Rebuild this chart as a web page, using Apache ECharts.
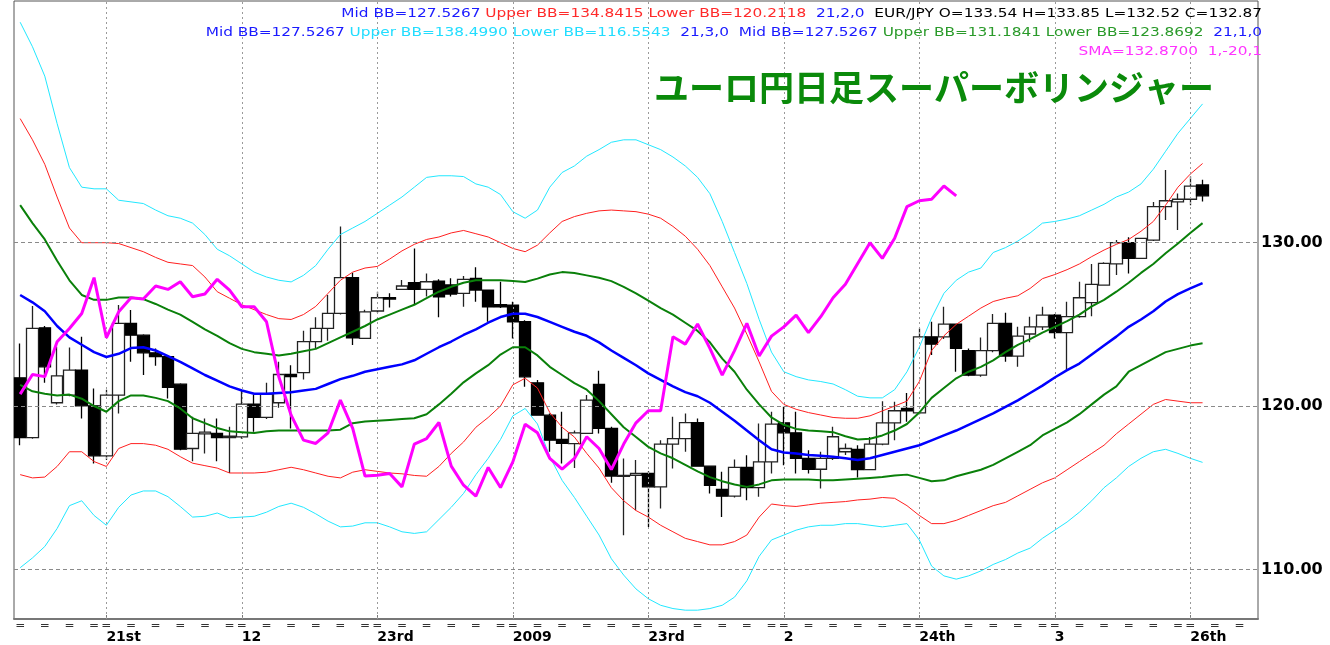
<!DOCTYPE html>
<html><head><meta charset="utf-8">
<script src="https://cdn.jsdelivr.net/npm/echarts/dist/echarts.min.js"></script>
<style>html,body{margin:0;padding:0;background:#fff}#c{width:1330px;height:645px}</style>
</head><body><div id="c"></div>
<script>
// ---- data (EUR/JPY daily) ----
const labelIdx  = [7, 18, 29, 40, 51, 62, 73, 84, 95];
const labelText = ['21st', '12', '23rd', '2009', '23rd', '2', '24th', '3', '26th'];
const yTicks = [110, 120, 130];

const open = [121.73,118.07,124.79,120.2,120.67,122.2,120.01,116.95,120.67,125.06,
124.34,123.26,123.02,121.34,117.4,118.3,118.32,118.07,118.11,120.12,
119.3,120.2,121.93,122.04,123.94,124.75,125.67,127.86,124.14,125.82,
126.63,127.14,127.55,127.14,127.65,127.41,126.9,127.82,127.1,126.2,
126.18,125.16,121.42,119.44,117.95,117.7,118.32,121.32,118.63,115.7,
115.75,115.87,115.05,117.67,118.01,118.99,116.32,114.89,114.48,116.24,
115.01,116.58,118.97,118.36,116.79,116.13,116.79,117.2,117.34,116.11,
117.67,118.97,119.85,119.58,124.24,124.24,125.02,123.39,121.89,123.39,
125.06,123.06,124.41,124.85,125.57,124.49,125.47,126.33,127.4,128.7,
130.0,129.04,130.16,132.21,132.5,132.66,133.54];
const close = [118.07,124.75,122.4,121.85,122.2,120.01,116.95,120.67,125.06,124.34,
123.26,123.02,121.14,117.36,118.32,118.4,118.07,118.15,120.12,119.3,
120.73,121.93,121.8,123.94,124.75,125.67,127.86,124.18,125.77,126.63,
126.55,127.35,127.14,127.61,126.69,126.86,127.76,127.1,126.08,126.08,
125.16,121.79,119.44,117.91,117.71,118.36,120.36,118.63,115.71,115.76,
115.87,115.05,117.67,118.01,118.99,116.32,115.15,114.48,116.24,115.01,
116.58,118.89,118.36,116.79,116.13,116.79,118.12,117.4,116.11,117.67,
118.97,119.71,119.71,124.24,123.79,125.02,123.53,121.89,123.39,125.06,
123.06,124.28,124.85,125.57,124.49,125.47,126.63,127.45,128.73,130.0,
129.04,130.27,132.21,132.57,132.66,133.47,132.87];
const low = [117.6,118.0,121.42,120.1,120.6,119.24,116.48,116.7,119.54,122.71,
121.9,122.46,120.46,117.3,116.62,117.1,116.62,115.9,118.0,118.42,
119.2,119.9,118.63,121.63,123.5,124.0,125.6,123.73,124.1,125.7,
126.04,127.1,126.25,126.7,125.43,126.7,126.08,126.39,125.16,126.0,
124.14,121.18,119.4,117.2,116.48,116.2,118.3,118.32,115.3,112.09,
113.62,112.6,113.72,116.17,117.2,116.3,114.64,113.21,114.4,114.23,
114.44,115.87,116.38,115.87,115.87,114.95,116.7,117.0,115.62,116.1,
117.6,117.91,119.03,119.5,123.12,124.1,122.1,121.83,121.8,123.3,
122.71,122.4,123.9,124.65,124.14,122.16,125.4,125.5,127.4,128.02,
128.12,129.0,130.1,131.39,130.78,132.3,132.52];
const high = [123.83,126.12,124.9,123.63,123.59,124.24,121.08,121.0,126.18,125.88,
124.4,123.53,123.1,121.4,119.34,119.24,119.24,118.73,120.97,120.7,
121.42,122.71,122.5,124.61,125.43,126.8,131.0,128.16,125.9,127.0,
126.9,127.72,129.65,128.12,127.76,127.82,127.96,128.49,127.1,127.61,
126.39,125.26,121.6,119.54,119.65,118.5,120.67,122.16,118.73,116.79,
116.7,116.0,117.91,119.34,119.54,119.24,116.35,115.97,116.73,116.99,
118.93,119.65,119.95,119.65,117.3,117.2,118.73,117.7,117.6,118.11,
120.3,120.26,120.8,124.75,125.16,126.08,125.06,123.53,124.2,125.63,
125.71,124.85,125.47,126.08,125.63,126.39,127.61,128.7,128.8,130.16,
130.33,130.3,132.5,134.45,133.02,134.05,133.85];

const midBB = [126.8,126.35,125.8,124.9,124.2,123.75,123.3,123.0,123.2,123.55,
123.6,123.4,123.05,122.7,122.3,121.9,121.55,121.2,120.95,120.75,
120.75,120.8,120.85,120.95,121.05,121.35,121.65,121.85,122.1,122.25,
122.4,122.55,122.8,123.2,123.6,123.95,124.35,124.7,125.1,125.45,
125.65,125.65,125.45,125.15,124.85,124.55,124.3,123.9,123.4,122.95,
122.5,122.0,121.6,121.2,120.85,120.6,120.2,119.65,119.1,118.5,
117.9,117.35,117.15,117.1,117.0,116.95,116.9,116.8,116.7,116.8,
117.0,117.2,117.4,117.6,117.9,118.2,118.5,118.85,119.2,119.55,
119.95,120.35,120.8,121.25,121.75,122.2,122.6,123.15,123.7,124.25,
124.85,125.3,125.8,126.4,126.85,127.2,127.53];
const upper1 = [132.3,131.2,130.2,128.9,127.7,126.8,126.5,126.5,126.65,126.65,
126.55,126.25,125.9,125.6,125.15,124.7,124.3,123.85,123.5,123.3,
123.2,123.1,123.2,123.35,123.5,123.85,124.2,124.55,124.9,125.3,
125.6,125.9,126.2,126.6,127.0,127.3,127.55,127.7,127.7,127.7,
127.65,127.6,127.8,128.05,128.2,128.15,128.0,127.85,127.65,127.3,
126.9,126.45,126.0,125.6,125.1,124.6,123.9,122.9,122.1,121.0,
120.1,119.3,118.85,118.6,118.5,118.45,118.4,118.15,117.95,118.0,
118.2,118.5,118.9,119.6,120.5,121.1,121.7,122.1,122.4,122.8,
123.3,123.75,124.1,124.5,124.85,125.2,125.6,126.1,126.5,127.0,
127.55,128.15,128.7,129.35,129.95,130.6,131.2];
const lower1 = [121.3,120.9,120.75,120.65,120.7,120.45,120.0,119.65,120.3,120.65,
120.65,120.5,120.3,119.85,119.25,118.95,118.65,118.45,118.4,118.35,
118.45,118.5,118.5,118.5,118.5,118.5,118.55,118.95,119.05,119.1,
119.15,119.2,119.25,119.5,120.1,120.75,121.45,122.0,122.5,123.15,
123.6,123.6,123.1,122.4,121.9,121.4,121.0,120.3,119.5,118.7,
118.1,117.5,117.1,116.8,116.4,116.0,115.65,115.4,115.2,115.05,
115.2,115.45,115.5,115.5,115.5,115.45,115.45,115.5,115.55,115.6,
115.65,115.75,115.8,115.6,115.4,115.45,115.7,115.9,116.1,116.4,
116.8,117.2,117.6,118.2,118.6,119.0,119.5,120.1,120.7,121.2,
122.1,122.5,122.9,123.3,123.5,123.7,123.85];
const upper2 = [137.6,136.3,134.8,132.8,130.9,130.0,130.0,130.0,129.95,129.7,
129.45,129.1,128.8,128.7,128.6,127.9,127.0,126.6,126.2,125.9,
125.6,125.35,125.3,125.6,126.1,126.9,127.7,128.2,128.45,128.55,
129.0,129.5,129.9,130.2,130.35,130.6,130.75,130.55,130.35,130.0,
129.65,129.45,129.85,130.6,131.3,131.6,131.8,131.95,132.0,131.95,
131.9,131.75,131.5,131.0,130.4,129.6,128.6,127.3,126.0,124.4,
122.7,120.9,120.1,119.8,119.6,119.45,119.3,119.25,119.25,119.4,
119.7,120.0,120.3,121.5,123.4,124.3,125.0,125.5,126.0,126.4,
126.6,126.75,127.2,127.8,128.05,128.35,128.7,129.15,129.55,129.9,
130.2,130.7,131.3,132.3,133.4,134.2,134.85];
const lower2 = [115.8,115.6,115.65,116.3,117.2,117.2,116.6,116.3,117.4,117.7,
117.7,117.6,117.35,116.9,116.5,116.35,116.2,115.9,115.9,115.9,
115.95,116.1,116.25,116.1,115.9,115.7,115.6,115.95,116.1,116.0,
115.9,115.85,115.75,115.7,116.3,117.1,117.8,118.7,119.3,120.0,
121.3,121.7,121.1,119.6,118.7,118.1,117.1,116.2,115.0,114.2,
113.6,113.2,112.7,112.3,111.9,111.7,111.5,111.5,111.7,112.1,
113.2,114.0,113.9,113.85,113.95,114.05,114.1,114.15,114.25,114.3,
114.4,114.35,113.9,113.3,112.8,112.8,113.0,113.3,113.6,113.9,
114.1,114.5,114.9,115.3,115.6,116.1,116.6,117.1,117.6,118.3,
118.9,119.5,120.1,120.4,120.3,120.2,120.2];
const upper3 = [143.5,142.0,140.2,137.3,134.6,133.4,133.3,133.3,132.6,132.5,
132.4,132.0,131.65,131.5,131.2,130.5,129.6,129.2,128.7,128.2,
127.9,127.7,127.6,128.0,128.6,129.6,130.5,130.9,131.3,131.8,
132.3,132.8,133.4,134.0,134.1,134.1,134.05,133.6,133.4,132.95,
131.9,131.5,132.0,133.4,134.3,134.7,135.3,135.7,136.15,136.3,
136.3,136.0,135.7,135.25,134.7,134.0,133.0,131.3,129.4,127.5,
125.3,123.3,122.1,121.8,121.6,121.5,121.35,121.0,120.6,120.5,
120.5,121.0,122.1,123.6,125.4,126.9,127.7,128.2,128.45,129.4,
129.7,130.1,130.6,131.2,131.3,131.45,131.65,132.0,132.35,132.8,
133.1,133.6,134.5,135.6,136.7,137.6,138.5];
const lower3 = [110.1,110.7,111.4,112.5,113.9,114.2,113.3,112.7,113.8,114.55,
114.8,114.8,114.45,113.85,113.2,113.25,113.45,113.15,113.2,113.25,
113.5,113.85,114.05,113.8,113.4,112.95,112.6,112.65,112.85,112.85,
112.6,112.3,112.2,112.3,113.05,113.8,114.65,115.8,116.8,117.95,
119.4,119.85,118.9,116.9,115.45,114.4,113.25,112.1,110.65,109.65,
108.8,108.2,107.8,107.6,107.5,107.5,107.6,107.8,108.3,109.3,
110.8,111.8,112.1,112.4,112.6,112.7,112.7,112.8,112.8,112.7,
112.6,112.7,112.8,111.8,110.2,109.6,109.4,109.6,109.9,110.3,
110.6,111.0,111.3,111.9,112.4,112.9,113.5,114.2,115.0,115.6,
116.3,116.8,117.2,117.35,117.1,116.8,116.55];
// SMA(1) shifted -20 bars (magenta)
const smaShift = [120.73,121.93,121.8,123.94,124.75,125.67,127.86,124.18,125.77,126.63,
126.55,127.35,127.14,127.61,126.69,126.86,127.76,127.1,126.08,126.08,
125.16,121.79,119.44,117.91,117.71,118.36,120.36,118.63,115.71,115.76,
115.87,115.05,117.67,118.01,118.99,116.32,115.15,114.48,116.24,115.01,
116.58,118.89,118.36,116.79,116.13,116.79,118.12,117.4,116.11,117.67,
118.97,119.71,119.71,124.24,123.79,125.02,123.53,121.89,123.39,125.06,
123.06,124.28,124.85,125.57,124.49,125.47,126.63,127.45,128.73,130.0,
129.04,130.27,132.21,132.57,132.66,133.47,132.87];
const lastPrice = 132.87;
const SLOTS = 101;

// ---- build ----
const cats = Array.from({length: SLOTS}, (_, i) => String(i));
const candles = open.map((o, i) => [o, close[i], low[i], high[i]]);
const isLabel = i => labelIdx.indexOf(i) >= 0;
const isEq = i => ((((i - 7) % 11) + 11) % 11) % 2 === 0;

function band(name, data, color, width, z) {
  return { name, type: 'line', data, symbol: 'none', smooth: false, silent: true, z,
    lineStyle: { color, width }, animation: false };
}

const F = 'DejaVu Sans';
const rich = {
  b: { fill: '#1a1aff', fontSize: 12, fontFamily: F },
  r: { fill: '#ff2a2a', fontSize: 12, fontFamily: F },
  c: { fill: '#22ddff', fontSize: 12, fontFamily: F },
  g: { fill: '#2a9a2a', fontSize: 12, fontFamily: F },
  m: { fill: '#ff33ff', fontSize: 12, fontFamily: F },
  k: { fill: '#000000', fontSize: 12, fontFamily: F }
};
function hdr(y, text) {
  return { type: 'text', x: 1262, y, scaleX: 1.277, scaleY: 1, z: 100,
    style: { text, x: 0, y: 0, align: 'right', textAlign: 'right', verticalAlign: 'middle',
      textVerticalAlign: 'middle', fontSize: 12, fontFamily: F, rich } };
}

const chart = echarts.init(document.getElementById('c'), null, { renderer: 'canvas' });
chart.setOption({
  animation: false,
  backgroundColor: '#ffffff',
  grid: { left: 14, right: 72, top: 1, bottom: 26, show: true, borderColor: '#555', borderWidth: 1, backgroundColor: '#fff' },
  xAxis: [{
    type: 'category', data: cats, boundaryGap: true,
    axisLine: { show: true, lineStyle: { color: '#777', width: 2 } },
    axisTick: { show: true, inside: true, length: 4, alignWithLabel: true, interval: (i) => isLabel(i), lineStyle: { color: '#777' } },
    axisLabel: { show: true, interval: (i) => isLabel(i), align: 'left', margin: 11,
      formatter: (v, i) => { const k = labelIdx.indexOf(i); return k >= 0 ? labelText[k] : ''; },
      color: '#000', fontSize: 14, fontWeight: 'bold', fontFamily: F },
    splitLine: { show: false }
  }, {
    type: 'category', data: cats, boundaryGap: true, position: 'bottom',
    axisLine: { show: false }, axisTick: { show: false },
    axisLabel: { show: true, interval: (i) => isEq(i), margin: 1, formatter: () => '=',
      color: '#333', fontSize: 12, fontFamily: F },
    splitLine: { show: false }
  }],
  yAxis: {
    type: 'value', position: 'right', min: 106.96, max: 144.80, scale: true,
    axisLine: { show: false }, axisTick: { show: false }, splitLine: { show: false },
    axisLabel: { show: true, customValues: yTicks, formatter: v => Number(v).toFixed(2), margin: 3,
      color: '#000', fontSize: 16, fontWeight: 'bold', fontFamily: F }
  },
  graphic: [
    hdr(14, '{b|Mid BB=127.5267} {r|Upper BB=134.8415 Lower BB=120.2118}  {b|21,2,0}  {k|EUR/JPY O=133.54 H=133.85 L=132.52 C=132.87}'),
    hdr(33, '{b|Mid BB=127.5267} {c|Upper BB=138.4990 Lower BB=116.5543}  {b|21,3,0}  {b|Mid BB=127.5267} {g|Upper BB=131.1841 Lower BB=123.8692}  {b|21,1,0}'),
    hdr(52, '{m|SMA=132.8700  1,-20,1}'),
    { type: 'text', x: 934, y: 88, z: 100,
      style: { text: 'ユーロ円日足スーパーボリンジャー', x: 0, y: 0, align: 'center', textAlign: 'center',
        verticalAlign: 'middle', textVerticalAlign: 'middle', fill: '#0a8a0a',
        fontSize: 35, fontWeight: 'bold', fontFamily: 'Noto Sans CJK JP' } }
  ],
  series: [
    { name: 'grid', type: 'line', data: [], z: 1, silent: true,
      markLine: { silent: true, symbol: ['none', 'none'], animation: false,
        label: { show: false },
        data: yTicks.map(v => ({ yAxis: v, lineStyle: { color: '#8a8a8a', type: [4, 3], width: 1 } }))
          .concat(labelIdx.map(i => ({ xAxis: cats[i], lineStyle: { color: '#9a9a9a', type: [2, 3], width: 1 } }))) } },
    { name: 'EUR/JPY', type: 'candlestick', data: candles, barWidth: 12, barMaxWidth: 14, z: 2,
      itemStyle: { color: '#ffffff', color0: '#000000', borderColor: '#222222', borderColor0: '#000000', borderWidth: 1.3 },
      markLine: { silent: true, symbol: ['none', 'none'], animation: false,
        data: [{ yAxis: lastPrice }],
        lineStyle: { width: 0, opacity: 0 },
        label: { show: true, position: 'end', distance: 1, formatter: lastPrice.toFixed(2),
          backgroundColor: '#000', color: '#fff', fontSize: 16, fontWeight: 'bold', fontFamily: F, padding: [1, 2, 0, 2] } } },
    band('up3', upper3, '#22e8ff', 1, 3),
    band('lo3', lower3, '#22e8ff', 1, 3),
    band('up2', upper2, '#ff2020', 1, 4),
    band('lo2', lower2, '#ff2020', 1, 4),
    band('up1', upper1, '#0a800a', 2, 5),
    band('lo1', lower1, '#0a800a', 2, 5),
    band('mid', midBB, '#0000ff', 2.5, 6),
    band('sma', smaShift, '#ff00ff', 3, 7)
  ]
});
</script>
</body></html>
